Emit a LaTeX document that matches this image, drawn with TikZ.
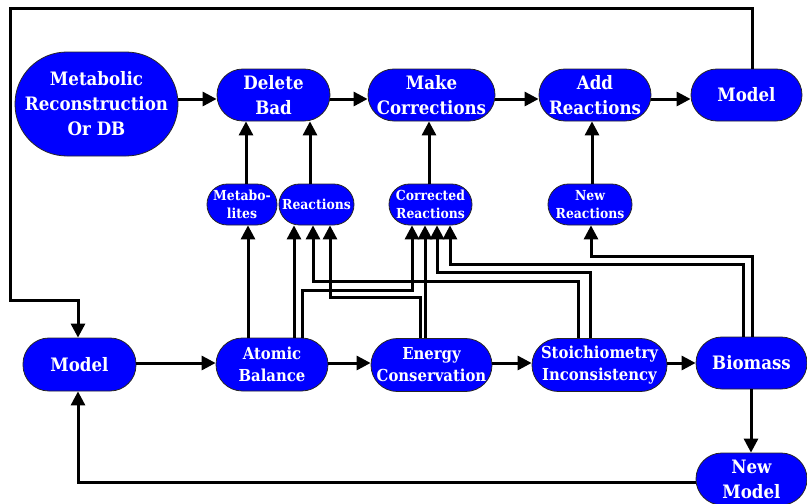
\documentclass[tikz,border=0pt]{standalone}
\usepackage{fontspec}
\setmainfont{DejaVu Serif Condensed}
\usetikzlibrary{arrows.meta}
\begin{document}
\begin{tikzpicture}[x=1pt,y=-1pt,
  box/.style={draw=black!85, line width=0.8pt, fill=blue, text=white, align=center, inner sep=0pt},
  big/.style={box, minimum height=52pt, rounded corners=25.9pt, font=\fontsize{18.5}{25}\selectfont\bfseries},
  mid/.style={box, minimum height=53pt, rounded corners=26.4pt, font=\fontsize{16.5}{22}\selectfont\bfseries},
  sml/.style={box, minimum height=41pt, rounded corners=20.4pt, font=\fontsize{13.8}{17.5}\selectfont\bfseries},
  arr/.style={line width=3pt, -{Triangle[length=14pt,width=14pt]}},
  ln/.style={line width=3pt}]
\useasboundingbox (0,0) rectangle (807,504);
% top row
\node[big, minimum width=163pt, minimum height=104pt, rounded corners=51.9pt] (recon) at (96.5,104) {Metabolic\\Reconstruction\\Or DB};
\node[big, minimum width=113pt] (del) at (273.5,95) {Delete\\Bad};
\node[big, minimum width=127pt] (make) at (431.5,95) {Make\\Corrections};
\node[big, minimum width=112pt] (add) at (595,95) {Add\\Reactions};
\node[big, minimum width=111pt] (mtop) at (746.5,95) {Model};
% small row
\node[sml, minimum width=70pt] (met) at (242,204.5) {Metabo-\\lites};
\node[sml, minimum width=75pt] (rea) at (316.5,204.5) {Reactions};
\node[sml, minimum width=83pt] (cor) at (430.5,204.5) {Corrected\\Reactions};
\node[sml, minimum width=84pt] (newr) at (590,204.5) {New\\Reactions};
% bottom row
\node[big, minimum width=113pt, minimum height=53pt] (mbot) at (79.5,364.5) {Model};
\node[mid, minimum width=112pt] (atom) at (272,364.5) {Atomic\\Balance};
\node[mid, minimum width=121pt] (energy) at (431.5,365) {Energy\\Conservation};
\node[mid, minimum width=135pt] (stoich) at (599.5,365) {Stoichiometry\\Inconsistency};
\node[big, minimum width=111pt] (bio) at (751.5,363) {Biomass};
\node[big, minimum width=111pt] (newm) at (751.5,479) {New\\Model};
% top row arrows
\draw[arr] (recon.east |- 0,99) -- (del.west |- 0,99);
\draw[arr] (del.east |- 0,99) -- (make.west |- 0,99);
\draw[arr] (make.east |- 0,99) -- (add.west |- 0,99);
\draw[arr] (add.east |- 0,99) -- (mtop.west |- 0,99);
% bottom row arrows
\draw[arr] (mbot.east |- 0,363) -- (atom.west |- 0,363);
\draw[arr] (atom.east |- 0,363) -- (energy.west |- 0,363);
\draw[arr] (energy.east |- 0,363) -- (stoich.west |- 0,363);
\draw[arr] (stoich.east |- 0,363) -- (bio.west |- 0,363);
% small to top
\draw[arr] (met.north -| 246,0) -- (del.south -| 246,0);
\draw[arr] (rea.north -| 310,0) -- (del.south -| 310,0);
\draw[arr] (cor.north -| 429,0) -- (make.south -| 429,0);
\draw[arr] (newr.north -| 592,0) -- (add.south -| 592,0);
% bottom to small
\draw[arr] (atom.north -| 248,0) -- (met.south -| 248,0);
\draw[arr] (atom.north -| 294,0) -- (rea.south -| 294,0);
\draw[arr] (atom.north -| 302,0) |- (412,290) -- (cor.south -| 412,0);
\draw[arr] (energy.north -| 420,0) |- (330,297) -- (rea.south -| 330,0);
\draw[arr] (energy.north -| 425,0) -- (cor.south -| 425,0);
\draw[arr] (stoich.north -| 578,0) |- (313,281) -- (rea.south -| 313,0);
\draw[arr] (stoich.north -| 590,0) |- (437,272) -- (cor.south -| 437,0);
\draw[arr] (bio.north -| 743,0) |- (450,264) -- (cor.south -| 450,0);
\draw[arr] (bio.north -| 752,0) |- (591,256) -- (newr.south -| 591,0);
% biomass to new model
\draw[arr] (bio.south -| 751,0) -- (newm.north -| 751,0);
% feedback loops
\draw[arr] (mtop.north -| 752,0) |- (10,8) |- (78,300) -- (mbot.north -| 78,0);
\draw[arr] (newm.west |- 0,482) -| (mbot.south -| 78,0);
\end{tikzpicture}
\end{document}
